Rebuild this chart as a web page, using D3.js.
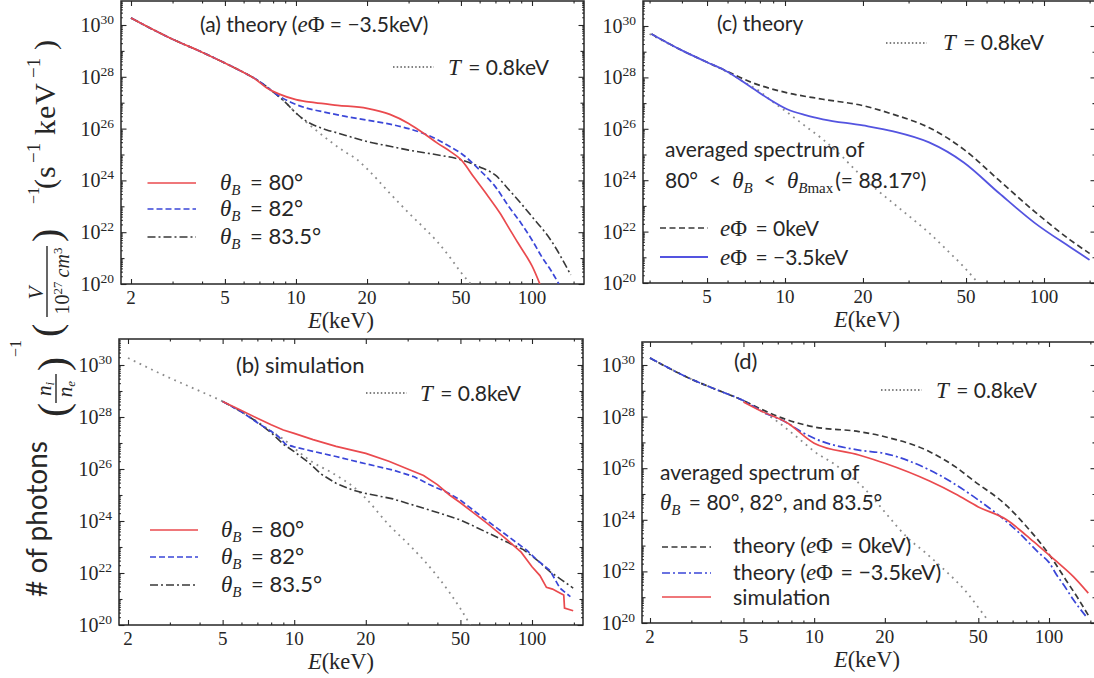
<!DOCTYPE html>
<html><head><meta charset="utf-8">
<script src="https://cdn.jsdelivr.net/npm/d3@7"></script>
<style>body{margin:0;background:#fff} svg{display:block}</style>
</head><body>
<script>
// ---------------- DATA (x = photon energy in keV, values = log10 of photon number) ----------------
const xMajorTicks = [2, 5, 10, 20, 50, 100];
const xMinorTicks = [3, 4, 6, 7, 8, 9, 30, 40, 60, 70, 80, 90, 150];
const yLabelExponents = [20, 22, 24, 26, 28, 30];

// thermal T = 0.8 keV reference (dotted)
const thermalE  = [2, 3, 4, 5, 6, 7, 8, 9, 10, 12, 14, 16, 18, 20, 25, 30, 35, 40, 45, 50, 55];
const thermalA  = [30.27, 29.45, 28.95, 28.53, 28.17, 27.82, 27.42, 27.02, 26.6, 25.98, 25.5, 25.12, 24.83, 24.45, 23.5, 22.75, 22.15, 21.6, 21.02, 20.45, 20.0];
const thermalB  = [30.27, 29.5, 29.0, 28.6, 28.2, 27.82, 27.45, 27.15, 26.8, 26.25, 25.92, 25.6, 25.27, 24.87, 23.85, 23.14, 22.5, 21.87, 21.25, 20.63, 20.0];
const thermalD  = [30.27, 29.45, 28.98, 28.62, 28.2, 27.8, 27.38, 27.0, 26.65, 26.2, 25.75, 25.3, 24.8, 24.3, 23.3, 22.7, 22.15, 21.65, 21.15, 20.6, 20.1];
const thermalCE = [3, 4, 5, 6, 7, 8, 8.7, 10.2, 12, 14, 16.5, 19.1, 22.5, 26.2, 31, 36, 42, 49, 55.7];
const thermalC  = [29.69, 29.05, 28.59, 28.2, 27.8, 27.45, 27.15, 26.64, 26.1, 25.59, 24.95, 24.3, 23.65, 23.1, 22.5, 21.95, 21.3, 20.63, 20.0];

// (a) theory, eΦ = -3.5 keV
const a80E  = [2, 3, 4, 5, 6, 6.7, 7.5, 8.5, 10, 12, 15, 20, 25, 30, 35, 40, 45, 50, 57, 65, 73, 80, 87, 95, 100, 108];
const a80   = [30.27, 29.45, 28.95, 28.53, 28.17, 27.92, 27.58, 27.33, 27.12, 27.0, 26.9, 26.78, 26.55, 26.2, 25.8, 25.42, 25.12, 24.8, 24.1, 23.4, 22.75, 22.15, 21.6, 21.05, 20.7, 20.0];
const a82E  = [2, 3, 4, 5, 6, 7, 8, 8.7, 9.5, 11, 13, 16, 20, 25, 30, 35, 40, 45, 50, 60, 70, 80, 90, 100, 110, 120, 130];
const a82   = [30.27, 29.45, 28.95, 28.53, 28.17, 27.82, 27.42, 27.2, 27.02, 26.8, 26.65, 26.48, 26.33, 26.17, 26.0, 25.8, 25.56, 25.3, 25.05, 24.4, 23.75, 22.97, 22.34, 21.7, 21.05, 20.54, 20.0];
const a835E = [2, 3, 4, 5, 6, 7, 8, 9, 10, 11, 12, 13.5, 15, 17.5, 20, 25, 30, 35, 40, 50, 60, 70, 80, 90, 100, 120, 146];
const a835  = [30.27, 29.45, 28.95, 28.53, 28.17, 27.82, 27.42, 27.02, 26.6, 26.3, 26.12, 25.95, 25.83, 25.65, 25.5, 25.32, 25.17, 25.07, 24.98, 24.8, 24.52, 24.2, 23.63, 23.1, 22.6, 21.7, 20.35];

// (b) simulation
const b80E  = [5, 6, 7, 8, 9, 10, 12, 15, 20, 25, 30, 35, 40, 45, 50, 57, 65, 78, 90, 100, 108, 115, 122, 128, 136, 137, 149];
const b80   = [28.6, 28.25, 27.95, 27.7, 27.5, 27.37, 27.13, 26.87, 26.6, 26.3, 26.0, 25.75, 25.4, 25.0, 24.7, 24.3, 23.9, 23.3, 22.8, 22.24, 21.9, 21.45, 21.38, 21.28, 21.15, 20.65, 20.55];
const b82E  = [5, 6, 7, 8, 8.6, 9.2, 10, 12, 15, 20, 26, 32, 37, 44, 50, 57, 65, 78, 95, 105, 119, 131, 145];
const b82   = [28.6, 28.2, 27.78, 27.45, 27.24, 26.95, 26.85, 26.68, 26.48, 26.2, 25.96, 25.7, 25.4, 25.1, 24.8, 24.4, 24.0, 23.46, 22.88, 22.5, 22.1, 21.42, 21.09];
const b835E = [5, 6, 7, 8, 9, 10, 11.5, 13, 15, 17.5, 20, 26, 32, 41, 50, 57, 65, 78, 92, 105, 119, 135, 149];
const b835  = [28.6, 28.2, 27.8, 27.4, 26.95, 26.67, 26.25, 25.8, 25.45, 25.2, 25.06, 24.85, 24.6, 24.3, 24.04, 23.8, 23.55, 23.2, 22.9, 22.5, 22.05, 21.7, 21.42];

// (c) theory, averaged 80° < θB < 88.17°
const c0E  = [3.05, 4, 5, 5.8, 7.45, 10.2, 14, 20, 26.2, 35.9, 49, 67, 92, 126, 150];
const c0   = [29.69, 29.05, 28.59, 28.3, 27.8, 27.4, 27.15, 26.9, 26.56, 26.05, 25.2, 24.0, 22.78, 21.68, 21.15];
const c35E = [3.05, 4, 5, 5.8, 7.45, 8.7, 10.2, 12, 14, 20, 26.2, 36, 49, 67, 92, 126, 150];
const c35  = [29.69, 29.05, 28.59, 28.3, 27.6, 27.15, 26.76, 26.53, 26.37, 26.13, 25.9, 25.47, 24.69, 23.5, 22.34, 21.4, 20.9];

// (d) averaged over 80°, 82°, 83.5°
const d0E   = [2, 3, 4, 5, 6, 7.7, 10, 15.5, 20, 31, 40, 48, 66, 80, 91, 104, 118, 133, 147];
const d0    = [30.27, 29.45, 28.98, 28.62, 28.27, 27.87, 27.6, 27.42, 27.22, 26.64, 26.05, 25.5, 24.55, 23.75, 23.15, 22.44, 21.67, 20.95, 20.3];
const d35E  = [2, 3, 4, 5, 6, 7.7, 8.57, 10, 15.5, 20, 31, 50, 73.5, 91, 100, 108, 116, 127, 144];
const d35   = [30.27, 29.45, 28.98, 28.62, 28.2, 27.75, 27.48, 27.16, 26.7, 26.57, 25.93, 24.77, 23.55, 22.7, 22.35, 21.85, 21.45, 20.9, 20.25];
const dSimE = [5, 6, 7.7, 10, 15.5, 20, 31, 40, 50, 66, 80, 91, 108, 127, 147];
const dSim  = [28.57, 28.2, 27.75, 26.97, 26.51, 26.19, 25.5, 25.0, 24.5, 24.0, 23.4, 22.96, 22.38, 21.8, 21.16];

// ---------------- LAYOUT & STYLE ----------------
const W = 1094, H = 678;
const SANS = "Lato, 'Open Sans', sans-serif";
const SERIF = "'Liberation Serif', 'DejaVu Serif', serif";
const INK = "#262626";
const RED = "#ea4a4e", BLUE = "#3a46d8", BLUE2 = "#5454e0", DARK = "#383838", GREY = "#8c8c8c";

const geom = {
  a: {left:121, right:584, top:1,   bottom:284, xa:2,  xaPx:131, xb:100, xbPx:532,  y30:25},
  b: {left:119, right:583, top:339, bottom:625, xa:2,  xaPx:128, xb:100, xbPx:532,  y30:365},
  c: {left:643, right:1096, top:1,  bottom:283, xa:10, xaPx:785, xb:100, xbPx:1044, y30:26},
  d: {left:642, right:1096, top:342, bottom:623, xa:2, xaPx:650, xb:100, xbPx:1049, y30:365}
};

const svg = d3.select("body").append("svg").attr("width", W).attr("height", H)
  .style("font-family", SANS);

function scales(g) {
  const ppd = (g.xbPx - g.xaPx) / Math.log10(g.xb / g.xa);
  const lo = g.xa * Math.pow(10, (g.left - g.xaPx) / ppd);
  const hi = g.xa * Math.pow(10, (g.right - g.xaPx) / ppd);
  const x = d3.scaleLog().domain([lo, hi]).range([g.left, g.right]);
  const yppd = (g.bottom - g.y30) / 10;
  const topV = Math.pow(10, 30 + (g.y30 - g.top) / yppd);
  const y = d3.scaleLog().domain([1e20, topV]).range([g.bottom, g.top]);
  return {x, y};
}

// rich text: segs = [{t, f, i, s, sh, dx}]
function rich(parent, x, y, segs, size, anchor) {
  const t = parent.append("text").attr("x", x).attr("y", y)
    .attr("font-size", size).attr("font-family", SANS).attr("fill", INK);
  if (anchor) t.attr("text-anchor", anchor);
  let cur = 0;
  segs.forEach(s => {
    const sp = t.append("tspan").text(s.t);
    const target = s.sh || 0;
    if (target !== cur) { sp.attr("dy", target - cur); cur = target; }
    if (s.f) sp.attr("font-family", s.f);
    if (s.i) sp.attr("font-style", "italic");
    if (s.s) sp.attr("font-size", s.s);
    if (s.dx) sp.attr("dx", s.dx);
  });
  return t;
}
const th = (sub) => [{t:"θ", f:SERIF, i:1, s:23}, {t:sub, f:SERIF, i:1, s:15, sh:5}];

function frameAndAxes(key) {
  const g = geom[key];
  const {x, y} = scales(g);
  const root = svg.append("g");
  const pdata = xMajorTicks.filter(v => v >= x.domain()[0] && v <= x.domain()[1]);
  const pminor = xMinorTicks.filter(v => v >= x.domain()[0] && v <= x.domain()[1]);
  const decs = d3.range(20, 31).map(e => Math.pow(10, e));
  const smalls = [];
  d3.range(20, 31).forEach(e => { for (let m = 2; m <= 9; m++) { const v = m * Math.pow(10, e); if (v < y.domain()[1]) smalls.push(v); } });
  const lab = decs.filter((v, i) => i % 2 === 0);
  const odd = decs.filter((v, i) => i % 2 === 1);

  const axes = [
    [d3.axisBottom(x).tickValues(pdata).tickSize(-5), `translate(0,${g.bottom})`],
    [d3.axisBottom(x).tickValues(pminor).tickSize(-2.5), `translate(0,${g.bottom})`],
    [d3.axisTop(x).tickValues(pdata).tickSize(-5), `translate(0,${g.top})`],
    [d3.axisTop(x).tickValues(pminor).tickSize(-2.5), `translate(0,${g.top})`],
    [d3.axisLeft(y).tickValues(lab).tickSize(-5.5), `translate(${g.left},0)`],
    [d3.axisLeft(y).tickValues(odd).tickSize(-3.5), `translate(${g.left},0)`],
    [d3.axisLeft(y).tickValues(smalls).tickSize(-1.8), `translate(${g.left},0)`],
    [d3.axisRight(y).tickValues(lab).tickSize(-5.5), `translate(${g.right},0)`],
    [d3.axisRight(y).tickValues(odd).tickSize(-3.5), `translate(${g.right},0)`],
    [d3.axisRight(y).tickValues(smalls).tickSize(-1.8), `translate(${g.right},0)`]
  ];
  axes.forEach(([ax, tr]) => {
    const a = root.append("g").attr("transform", tr).call(ax.tickSizeOuter(0).tickFormat(""));
    a.select(".domain").remove();
    a.selectAll("line").attr("stroke", INK).attr("stroke-width", 1.1);
  });
  root.append("rect").attr("x", g.left).attr("y", g.top)
    .attr("width", g.right - g.left).attr("height", g.bottom - g.top)
    .attr("fill", "none").attr("stroke", INK).attr("stroke-width", 1.5);

  yLabelExponents.forEach(e => {
    rich(root, g.left - 7, y(Math.pow(10, e)) + 7,
      [{t:"10", f:SERIF}, {t:String(e), f:SERIF, s:13.5, sh:-8}], 20, "end");
  });
  pdata.forEach(v => {
    root.append("text").attr("x", x(v)).attr("y", g.bottom + 20).attr("text-anchor", "middle")
      .attr("font-family", SERIF).attr("font-size", 19).attr("fill", INK).text(v);
  });
  const mid = key === "a" || key === "b" ? 341 : 867;
  rich(root, mid, g.bottom + 44, [{t:"E", f:SERIF, i:1}, {t:"(keV)", f:SERIF}], 22.5, "middle");

  const id = "clip-" + key;
  svg.append("clipPath").attr("id", id).append("rect")
    .attr("x", g.left).attr("y", g.top).attr("width", g.right - g.left).attr("height", g.bottom - g.top);
  const plot = svg.append("g").attr("clip-path", `url(#${id})`);
  return {x, y, plot, g};
}

function curve(P, xs, ls, style, smooth) {
  const pts = xs.map((e, i) => [e, Math.pow(10, ls[i])]);
  const line = d3.line().x(d => P.x(d[0])).y(d => P.y(d[1]))
    .curve(smooth ? d3.curveMonotoneX : d3.curveLinear);
  P.plot.append("path").datum(pts).attr("d", line).attr("fill", "none")
    .attr("stroke", style.c).attr("stroke-width", style.w || 1.6)
    .attr("stroke-dasharray", style.da || null);
}
const S = {
  red:  {c:RED, w:1.7},
  blue: {c:BLUE, w:1.7, da:"6,3"},
  dd:   {c:DARK, w:1.6, da:"8,3,2,3"},
  dot:  {c:GREY, w:1.8, da:"1.8,4.6"},
  dash: {c:DARK, w:1.7, da:"6,3.5"},
  bsol: {c:BLUE2, w:1.8},
  bdd:  {c:BLUE, w:1.7, da:"8,3,2,3"}
};
function legLine(x1, x2, yy, st, dot) {
  svg.append("line").attr("x1", x1).attr("x2", x2).attr("y1", yy).attr("y2", yy)
    .attr("stroke", st.c).attr("stroke-width", st.w || 1.6)
    .attr("stroke-dasharray", dot ? "1.5,2.2" : (st.da || null));
}
function tLegend(x1, x2, yy, tx, ty) {
  legLine(x1, x2, yy, {c:"#555", w:1.7}, true);
  rich(svg, tx, ty, [{t:"T", f:SERIF, i:1, s:23}, {t:" = 0.8keV", dx:2}], 21);
}

// ---------------- PANEL (a) ----------------
const A = frameAndAxes("a");
curve(A, thermalE, thermalA, S.dot, true);
curve(A, a835E, a835, S.dd, true);
curve(A, a82E, a82, S.blue, true);
curve(A, a80E, a80, S.red, true);
rich(svg, 200, 32, [{t:"(a) theory ("}, {t:"e", f:SERIF, i:1, s:23}, {t:"Φ", f:SERIF, s:23}, {t:" = −3.5keV)"}], 21);
tLegend(393, 434, 67, 448, 75);
[[183, S.red, "80°"], [209, S.blue, "82°"], [237, S.dd, "83.5°"]].forEach(([yy, st, lbl]) => {
  legLine(147.5, 196, yy, st);
  rich(svg, 220, yy + 7, th("B").concat([{t:" = " + lbl, sh:0, dx:4}]), 22);
});

// ---------------- PANEL (b) ----------------
const B = frameAndAxes("b");
curve(B, thermalE, thermalB, S.dot, true);
curve(B, b835E, b835, S.dd, false);
curve(B, b82E, b82, S.blue, false);
curve(B, b80E, b80, S.red, false);
rich(svg, 236, 373, [{t:"(b) simulation"}], 22);
tLegend(366, 407, 393, 420, 401);
[[530, S.red, "80°"], [557, S.blue, "82°"], [585, S.dd, "83.5°"]].forEach(([yy, st, lbl]) => {
  legLine(150, 198, yy, st);
  rich(svg, 221, yy + 7, th("B").concat([{t:" = " + lbl, sh:0, dx:4}]), 22);
});

// ---------------- PANEL (c) ----------------
const C = frameAndAxes("c");
curve(C, thermalCE, thermalC, S.dot, true);
curve(C, c0E, c0, S.dash, true);
curve(C, c35E, c35, S.bsol, true);
rich(svg, 717, 31, [{t:"(c) theory"}], 21);
tLegend(886, 927, 43, 943, 50);
rich(svg, 665, 157, [{t:"averaged spectrum of"}], 21);
rich(svg, 665, 188, [{t:"80°"}, {t:"<", dx:11}].concat(
  [{t:"θ", f:SERIF, i:1, s:23, dx:11}, {t:"B", f:SERIF, i:1, s:15, sh:5}, {t:"<", sh:0, dx:11},
   {t:"θ", f:SERIF, i:1, s:23, dx:11}, {t:"B", f:SERIF, i:1, s:15, sh:5}, {t:"max", f:SERIF, s:15, sh:5},
   {t:"(= 88.17°)", sh:0, dx:2}]), 21);
legLine(660, 708, 228, S.dash);
rich(svg, 720, 236, [{t:"e", f:SERIF, i:1, s:23}, {t:"Φ", f:SERIF, s:23}, {t:" = 0keV", dx:3}], 21);
legLine(660, 708, 257, S.bsol);
rich(svg, 720, 265, [{t:"e", f:SERIF, i:1, s:23}, {t:"Φ", f:SERIF, s:23}, {t:" = −3.5keV", dx:3}], 21);

// ---------------- PANEL (d) ----------------
const D = frameAndAxes("d");
curve(D, thermalE, thermalD, S.dot, true);
curve(D, d0E, d0, S.dash, true);
curve(D, d35E, d35, S.bdd, true);
curve(D, dSimE, dSim, S.red, true);
rich(svg, 734, 369, [{t:"(d)"}], 22);
tLegend(881, 922, 390, 936, 398);
rich(svg, 660, 480, [{t:"averaged spectrum of"}], 21);
rich(svg, 660, 510, th("B").concat([{t:" = 80°, 82°, and 83.5°", sh:0, dx:3}]), 21);
legLine(662, 711, 547, S.dash);
rich(svg, 733, 553, [{t:"theory ("}, {t:"e", f:SERIF, i:1, s:23}, {t:"Φ", f:SERIF, s:23}, {t:" = 0keV)", dx:2}], 21.5);
legLine(662, 711, 573, S.bdd);
rich(svg, 733, 580, [{t:"theory ("}, {t:"e", f:SERIF, i:1, s:23}, {t:"Φ", f:SERIF, s:23}, {t:" = −3.5keV)", dx:2}], 21.5);
legLine(662, 711, 597, S.red);
rich(svg, 733, 605, [{t:"simulation"}], 21.5);

// ---------------- shared Y label (rotated; local y = screen x) ----------------
const yl = svg.append("g").attr("transform", "translate(0,600) rotate(-90)");
yl.append("text").attr("x", 3).attr("y", 47).attr("font-family", SANS).attr("font-size", 28)
  .attr("fill", INK).text("# of photons");
function glyph(u, v, ch, size, italic) {
  const t = yl.append("text").attr("x", u).attr("y", v).attr("font-family", SERIF).attr("font-size", size)
    .attr("fill", INK).text(ch);
  if (italic) t.attr("font-style", "italic");
  return t;
}
function bar(u1, u2, v) {
  yl.append("line").attr("x1", u1).attr("x2", u2).attr("y1", v).attr("y2", v).attr("stroke", INK).attr("stroke-width", 1.4);
}
// (n_i / n_e)^-1
glyph(183, 67, "(", 42);
bar(197, 226, 56);
rich(yl, 211, 51, [{t:"n", f:SERIF, i:1}, {t:"i", f:SERIF, i:1, s:13, sh:3}], 21, "middle");
rich(yl, 211, 72, [{t:"n", f:SERIF, i:1}, {t:"e", f:SERIF, i:1, s:13, sh:3}], 21, "middle");
glyph(229, 67, ")", 42);
glyph(243, 21, "−1", 16);
// (V / 10^27 cm^3)^-1
glyph(263, 60, "(", 40);
bar(283, 354, 47);
glyph(307, 43, "V", 21, true).attr("text-anchor", "middle");
rich(yl, 319, 69, [{t:"10", f:SERIF}, {t:"27", f:SERIF, s:13, sh:-7}, {t:"cm", f:SERIF, i:1, sh:0, dx:4}, {t:"3", f:SERIF, s:13, sh:-7}], 20, "middle");
glyph(358, 60, ")", 40);
glyph(396, 39, "−1", 16);
// (s^-1 keV^-1)
glyph(411, 55, "(", 30);
glyph(422, 55, "s", 30);
glyph(437, 40, "−1", 19);
glyph(465, 55, "keV", 30).attr("letter-spacing", 1);
glyph(522, 40, "−1", 19);
glyph(550, 55, ")", 30);
</script>
</body></html>
